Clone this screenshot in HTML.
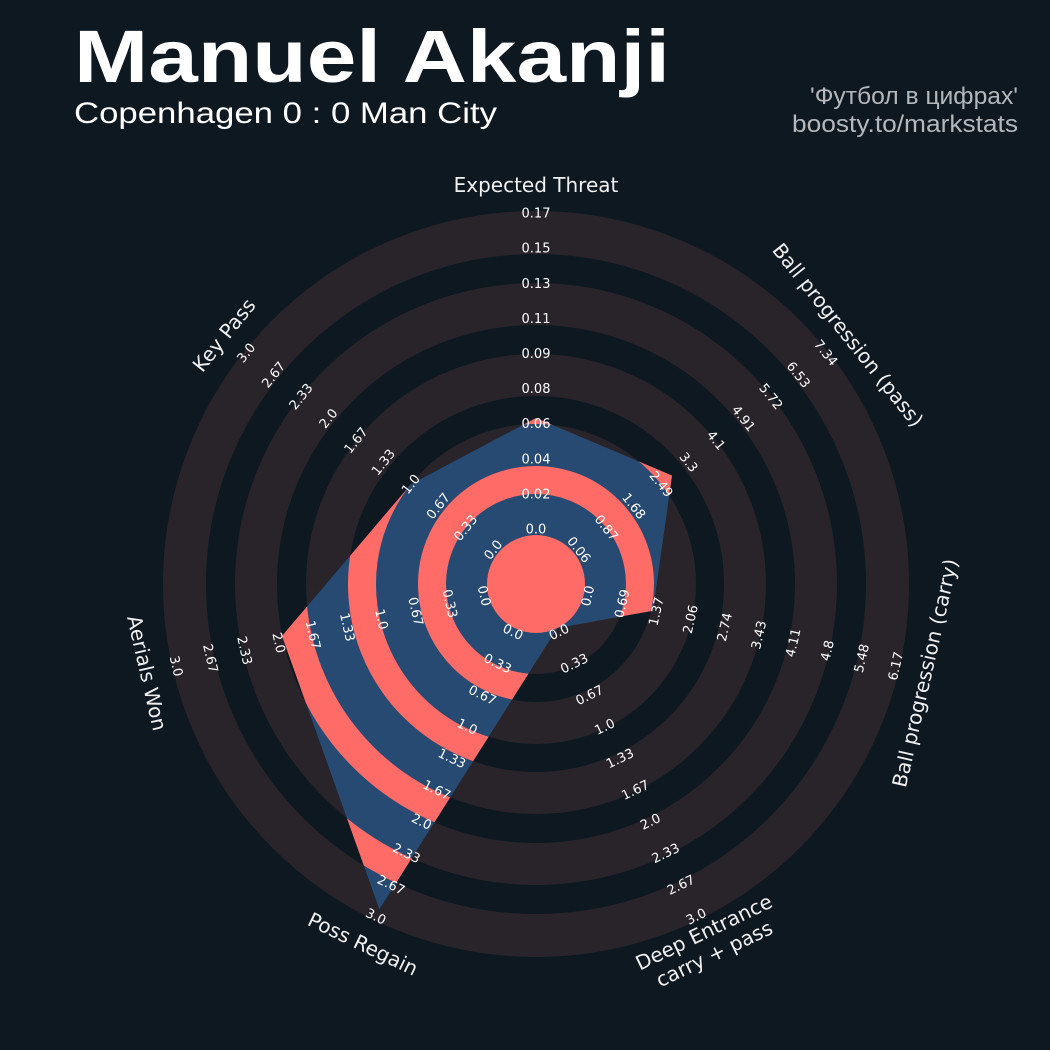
<!DOCTYPE html>
<html><head><meta charset="utf-8"><style>
html,body{margin:0;padding:0;background:#0e1820;}
svg{display:block}
.v{font-family:"DejaVu Sans",sans-serif;font-size:13px;fill:#ffffff;text-anchor:middle;dominant-baseline:central}
.a{font-family:"DejaVu Sans",sans-serif;font-size:20px;fill:#f0f0f0;text-anchor:middle;dominant-baseline:central}
</style></head><body>
<svg width="1050" height="1050" viewBox="0 0 1050 1050" xmlns="http://www.w3.org/2000/svg">
<rect width="1050" height="1050" fill="#0e1820"/>
<text x="74" y="82" font-family="'Liberation Sans',sans-serif" font-weight="bold" font-size="74" fill="#ffffff" textLength="596" lengthAdjust="spacingAndGlyphs">Manuel Akanji</text>
<text x="74" y="123" font-family="'Liberation Sans',sans-serif" font-size="30" fill="#ffffff" textLength="423" lengthAdjust="spacingAndGlyphs">Copenhagen 0 : 0 Man City</text>
<text x="1018" y="104" text-anchor="end" font-family="'Liberation Sans',sans-serif" font-size="24" fill="#b4b8bc" textLength="208" lengthAdjust="spacingAndGlyphs">'Футбол в цифрах'</text>
<text x="1018" y="132" text-anchor="end" font-family="'Liberation Sans',sans-serif" font-size="24" fill="#b4b8bc" textLength="226" lengthAdjust="spacingAndGlyphs">boosty.to/markstats</text>
<defs><clipPath id="cp"><polygon points="536,418 672,475.5 653,610.7 557.3,628.1 379.4,909.3 282,636 410.9,484.2"/></clipPath></defs>
<g fill="none" stroke="#28242a">
<circle cx="536" cy="584" r="49" fill="#28242a" stroke="none"/>
<circle cx="536" cy="584" r="69.5" stroke-width="41"/>
<circle cx="536" cy="584" r="139" stroke-width="42"/>
<circle cx="536" cy="584" r="209" stroke-width="42"/>
<circle cx="536" cy="584" r="280" stroke-width="42"/>
<circle cx="536" cy="584" r="351.5" stroke-width="43"/>
</g>
<polygon points="536,418 672,475.5 653,610.7 557.3,628.1 379.4,909.3 282,636 410.9,484.2" fill="#274a73"/>
<g clip-path="url(#cp)" fill="none" stroke="#ff6b66">
<circle cx="536" cy="584" r="49" fill="#ff6b66" stroke="none"/>
<circle cx="536" cy="584" r="104" stroke-width="28"/>
<circle cx="536" cy="584" r="174" stroke-width="28"/>
<circle cx="536" cy="584" r="244.5" stroke-width="29"/>
<circle cx="536" cy="584" r="315.5" stroke-width="29"/>
</g>
<g class="v">
<text x="536" y="530">0.0</text><text x="536" y="494.9">0.02</text><text x="536" y="459.8">0.04</text><text x="536" y="424.7">0.06</text><text x="536" y="389.6">0.08</text><text x="536" y="354.5">0.09</text><text x="536" y="319.4">0.11</text><text x="536" y="284.3">0.13</text><text x="536" y="249.2">0.15</text><text x="536" y="214.1">0.17</text>
</g>
<g class="v">
<text transform="translate(578.2,550.3) rotate(51.4)">0.06</text><text transform="translate(605.7,528.4) rotate(51.4)">0.87</text><text transform="translate(633.1,506.6) rotate(51.4)">1.68</text><text transform="translate(660.5,484.7) rotate(51.4)">2.49</text><text transform="translate(688,462.8) rotate(51.4)">3.3</text><text transform="translate(715.4,440.9) rotate(51.4)">4.1</text><text transform="translate(742.9,419) rotate(51.4)">4.91</text><text transform="translate(770.3,397.1) rotate(51.4)">5.72</text><text transform="translate(797.7,375.3) rotate(51.4)">6.53</text><text transform="translate(825.2,353.4) rotate(51.4)">7.34</text>
</g>
<g class="v">
<text transform="translate(588.6,596) rotate(-77.1)">0.0</text><text transform="translate(622.9,603.8) rotate(-77.1)">0.69</text><text transform="translate(657.1,611.6) rotate(-77.1)">1.37</text><text transform="translate(691.3,619.4) rotate(-77.1)">2.06</text><text transform="translate(725.5,627.3) rotate(-77.1)">2.74</text><text transform="translate(759.7,635.1) rotate(-77.1)">3.43</text><text transform="translate(794,642.9) rotate(-77.1)">4.11</text><text transform="translate(828.2,650.7) rotate(-77.1)">4.8</text><text transform="translate(862.4,658.5) rotate(-77.1)">5.48</text><text transform="translate(896.6,666.3) rotate(-77.1)">6.17</text>
</g>
<g class="v">
<text transform="translate(559.4,632.7) rotate(-25.7)">0.0</text><text transform="translate(574.7,664.3) rotate(-25.7)">0.33</text><text transform="translate(589.9,695.9) rotate(-25.7)">0.67</text><text transform="translate(605.1,727.5) rotate(-25.7)">1.0</text><text transform="translate(620.4,759.2) rotate(-25.7)">1.33</text><text transform="translate(635.6,790.8) rotate(-25.7)">1.67</text><text transform="translate(650.8,822.4) rotate(-25.7)">2.0</text><text transform="translate(666,854) rotate(-25.7)">2.33</text><text transform="translate(681.3,885.7) rotate(-25.7)">2.67</text><text transform="translate(696.5,917.3) rotate(-25.7)">3.0</text>
</g>
<g class="v">
<text transform="translate(512.6,632.7) rotate(25.7)">0.0</text><text transform="translate(497.3,664.3) rotate(25.7)">0.33</text><text transform="translate(482.1,695.9) rotate(25.7)">0.67</text><text transform="translate(466.9,727.5) rotate(25.7)">1.0</text><text transform="translate(451.6,759.2) rotate(25.7)">1.33</text><text transform="translate(436.4,790.8) rotate(25.7)">1.67</text><text transform="translate(421.2,822.4) rotate(25.7)">2.0</text><text transform="translate(406,854) rotate(25.7)">2.33</text><text transform="translate(390.7,885.7) rotate(25.7)">2.67</text><text transform="translate(375.5,917.3) rotate(25.7)">3.0</text>
</g>
<g class="v">
<text transform="translate(483.4,596) rotate(77.1)">0.0</text><text transform="translate(449.1,603.8) rotate(77.1)">0.33</text><text transform="translate(414.9,611.6) rotate(77.1)">0.67</text><text transform="translate(380.7,619.4) rotate(77.1)">1.0</text><text transform="translate(346.5,627.3) rotate(77.1)">1.33</text><text transform="translate(312.3,635.1) rotate(77.1)">1.67</text><text transform="translate(278,642.9) rotate(77.1)">2.0</text><text transform="translate(243.8,650.7) rotate(77.1)">2.33</text><text transform="translate(209.6,658.5) rotate(77.1)">2.67</text><text transform="translate(175.4,666.3) rotate(77.1)">3.0</text>
</g>
<g class="v">
<text transform="translate(493.8,550.3) rotate(-51.4)">0.0</text><text transform="translate(466.3,528.4) rotate(-51.4)">0.33</text><text transform="translate(438.9,506.6) rotate(-51.4)">0.67</text><text transform="translate(411.5,484.7) rotate(-51.4)">1.0</text><text transform="translate(384,462.8) rotate(-51.4)">1.33</text><text transform="translate(356.6,440.9) rotate(-51.4)">1.67</text><text transform="translate(329.1,419) rotate(-51.4)">2.0</text><text transform="translate(301.7,397.1) rotate(-51.4)">2.33</text><text transform="translate(274.3,375.3) rotate(-51.4)">2.67</text><text transform="translate(246.8,353.4) rotate(-51.4)">3.0</text>
</g>
<g class="a">
<text x="536" y="185">Expected Threat</text>
<text transform="translate(848,335) rotate(51.4)">Ball progression (pass)</text>
<text transform="translate(925,673) rotate(-77.1)">Ball progression (carry)</text>
<text transform="translate(709,943) rotate(-25.7)"><tspan x="0" y="-12">Deep Entrance</tspan><tspan x="0" y="12">carry + pass</tspan></text>
<text transform="translate(363,944) rotate(25.7)">Poss Regain</text>
<text transform="translate(147,673) rotate(77.1)">Aerials Won</text>
<text transform="translate(224,335) rotate(-51.4)">Key Pass</text>
</g>
</svg>
</body></html>
